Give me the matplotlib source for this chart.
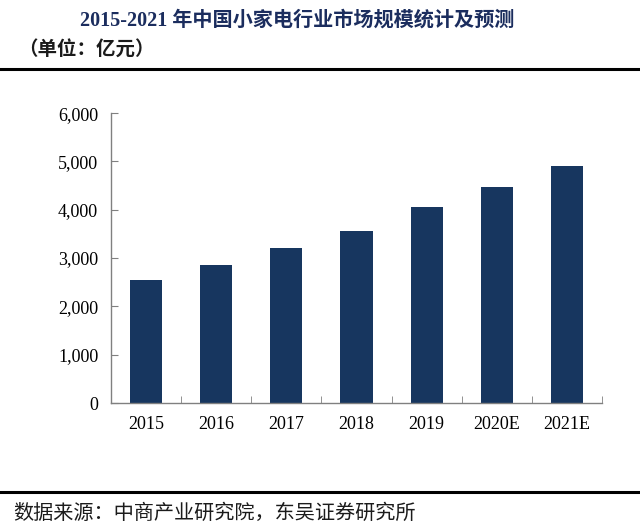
import matplotlib.pyplot as plt
import numpy as np
from matplotlib.ticker import FuncFormatter, FixedLocator

# fonts: Times-like for digits, CJK fallback
SERIF = ['Liberation Serif', 'Noto Sans CJK SC']
CJK = ['Noto Sans CJK SC', 'DejaVu Sans']

years = ['2015', '2016', '2017', '2018', '2019', '2020E', '2021E']
market_size = [2550, 2850, 3200, 3570, 4060, 4480, 4910]  # 亿元
yticks = [0, 1000, 2000, 3000, 4000, 5000, 6000]

title = '2015-2021 年中国小家电行业市场规模统计及预测'
unit = '（单位：亿元）'
source = '数据来源：中商产业研究院，东吴证券研究所'


def main():
    fig = plt.figure(figsize=(6.4, 5.31), dpi=100)
    ax = fig.add_axes([0.173, 0.241, 0.768, 0.546])

    x = np.arange(len(years))
    ax.bar(x, market_size, width=0.46, color='#17365f', zorder=2)

    ax.set_xlim(-0.5, len(years) - 0.5)
    ax.set_ylim(0, 6000)
    ax.set_yticks(yticks)
    ax.yaxis.set_major_formatter(FuncFormatter(lambda v, p: f'{int(v):,}'))
    ax.set_xticks(x)
    ax.set_xticklabels(years)
    ax.xaxis.set_minor_locator(FixedLocator(np.arange(0.5, len(years), 1)))

    for s in ['top', 'right']:
        ax.spines[s].set_visible(False)
    for s in ['left', 'bottom']:
        ax.spines[s].set_color('#808080')
        ax.spines[s].set_linewidth(1.0)

    ax.tick_params(axis='x', which='major', length=0, pad=9)
    ax.tick_params(axis='x', which='minor', direction='in', length=5, color='#808080')
    ax.tick_params(axis='y', direction='in', length=5, color='#808080', pad=9)
    for lab in ax.get_xticklabels() + ax.get_yticklabels():
        lab.set_family(SERIF)
        lab.set_fontsize(13)

    # header and footer
    fig.text(0.125, 0.962, title, family=SERIF, fontsize=14.5, fontweight='bold',
             color='#1b2d5e', va='center', ha='left')
    fig.text(0.028, 0.906, unit, family=CJK, fontsize=14, fontweight='bold',
             color='#1b1b1b', va='center', ha='left')
    fig.add_artist(plt.Line2D([0, 1], [0.870, 0.870], color='black', linewidth=2.2))
    fig.add_artist(plt.Line2D([0, 1], [0.073, 0.073], color='black', linewidth=2.2))
    fig.text(0.02, 0.034, source, family=CJK, fontsize=14.5, color='#1b1b1b',
             va='center', ha='left')

    fig.savefig('out.png', dpi=100, facecolor='white')


if __name__ == '__main__':
    main()
